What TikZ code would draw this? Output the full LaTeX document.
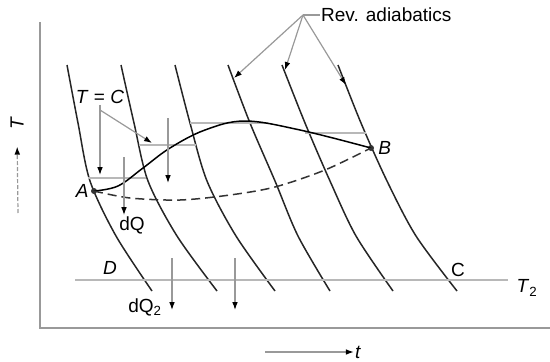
\documentclass[tikz,border=0pt]{standalone}
\usepackage{fontspec}
\setmainfont{Liberation Sans}
\usetikzlibrary{arrows.meta,positioning}
\definecolor{axisgray}{gray}{0.6}
\definecolor{stepgray}{gray}{0.72}

\begin{document}
\begin{tikzpicture}[x=1pt, y=-1pt,
      lbl/.style={inner sep=1pt, font=\fontsize{19}{22}\selectfont},
      adiab/.style={line width=1.5pt, black!85},
      iso/.style={line width=2pt, stepgray},
      heat/.style={line width=1.2pt, axisgray, -{Latex[length=2.8mm,width=2mm,black]}},
      pt/.style={circle, fill=black!80, inner sep=0pt, minimum size=6pt}]
    \useasboundingbox (0,0) rectangle (550,362);
    % axes
    \draw[line width=1.5pt, axisgray] (40,22) -- (40,328) -- (550,328);
    \node[lbl, rotate=90] (tlab) at (17,123) {\textit{T}};
    \coordinate (tfoot) at (18,213);
    \draw[line width=1.2pt, axisgray, dash pattern=on 4pt off 2pt, -{Latex[length=2.8mm,width=2mm,black]}, shorten >=16pt] (tfoot) -- (tlab.west);
    \node[lbl] (vlab) at (358,352) {\textit{t}};
    \coordinate (vfoot) at (265,352);
    \draw[line width=1.2pt, axisgray, -{Latex[length=2.8mm,width=2mm,black]}] (vfoot) -- (vlab.west);
    % reversible adiabatics
    \draw[adiab] plot[smooth] coordinates {(67,65) (78,123) (90,181) (116,236) (152,291)};
    \draw[adiab] plot[smooth] coordinates {(121,65) (134,123) (148,181) (177,236) (217,291)};
    \draw[adiab] plot[smooth] coordinates {(175,65) (190,123) (207,181) (236,236) (275,291)};
    \draw[adiab] plot[smooth] coordinates {(228,65) (250,123) (275,181) (298,236) (330,291)};
    \draw[adiab] plot[smooth] coordinates {(282,65) (305,123) (330,181) (356,236) (393,291)};
    \draw[adiab] plot[smooth] coordinates {(338,65) (361,123) (387,181) (416,236) (457,291)};
    \coordinate (ad4) at (234,78); \coordinate (ad5) at (285,70); \coordinate (ad6) at (346,85);
    \node[lbl, anchor=west] (rev) at (320,15) {Rev. adiabatics};
    \coordinate (fork) at (303,15);
    \draw[line width=1.2pt, axisgray] (rev.west) -- (fork);
    \draw[heat] (fork) -- (ad4); \draw[heat] (fork) -- (ad5); \draw[heat] (fork) -- (ad6);
    % isothermal steps
    \coordinate (s1a) at (88,178);  \coordinate (s1b) at (146,178);
    \coordinate (s2a) at (139,145); \coordinate (s2b) at (196,145);
    \coordinate (s3a) at (190,123); \coordinate (s3b) at (268,123);
    \coordinate (s4a) at (305,133); \coordinate (s4b) at (366,133);
    \draw[iso] (s1a) -- (s1b); \draw[iso] (s2a) -- (s2b);
    \draw[iso] (s3a) -- (s3b); \draw[iso] (s4a) -- (s4b);
    % states A and B
    \node[pt] (a) at (94,191) {};
    \node[pt] (b) at (371,148) {};
    \node[lbl, left=1pt of a] (alab) {\textit{A}};
    \node[lbl, right=3pt of b] (blab) {\textit{B}};
    \draw[line width=1.5pt] plot[smooth, tension=0.6] coordinates {(a.center) (118,186) (143,168) (170,148) (205,130) (245,121) (300,130) (b.center)};
    \draw[line width=1.5pt, black!80, dash pattern=on 9pt off 5pt] plot[smooth] coordinates {(a.center) (130,198) (180,200) (230,195) (275,187) (325,170) (b.center)};
    % T = C arrows
    \node[lbl] (tc) at (100,97) {\textit{T} = \textit{C}};
    \coordinate (tcfoot) at (100,110);
    \coordinate (s2hit) at (152,143);
    \draw[heat] (tcfoot) -- ([yshift=3pt]tcfoot |- s1a);
    \draw[line width=1.2pt, axisgray] (tc.south) -- (tcfoot);
    \draw[heat] (tcfoot) -- (s2hit);
    % heat received
    \node[lbl] (dq) at (132,225) {dQ};
    \coordinate (q1top) at (124,157);
    \draw[heat] (q1top) -- (q1top |- dq.north);
    \coordinate (q2top) at (168,118); \coordinate (q2tip) at (168,183);
    \draw[heat] (q2top) -- (q2tip);
    % sink isotherm
    \node[lbl] (t2) at (527,288) {\textit{T}\textsubscript{2}};
    \coordinate (isofoot) at (75,280);
    \draw[iso] (isofoot) -- (508,280);
    \node[lbl] (d) at (110,268) {\textit{D}};
    \node[lbl] (c) at (458,270) {C};
    \node[lbl] (dq2) at (145,307) {dQ\textsubscript{2}};
    \coordinate (r1top) at (172,258); \coordinate (r1tip) at (172,310);
    \coordinate (r2top) at (235,258); \coordinate (r2tip) at (235,310);
    \draw[heat] (r1top) -- (r1tip); \draw[heat] (r2top) -- (r2tip);
  \end{tikzpicture}
\end{document}
